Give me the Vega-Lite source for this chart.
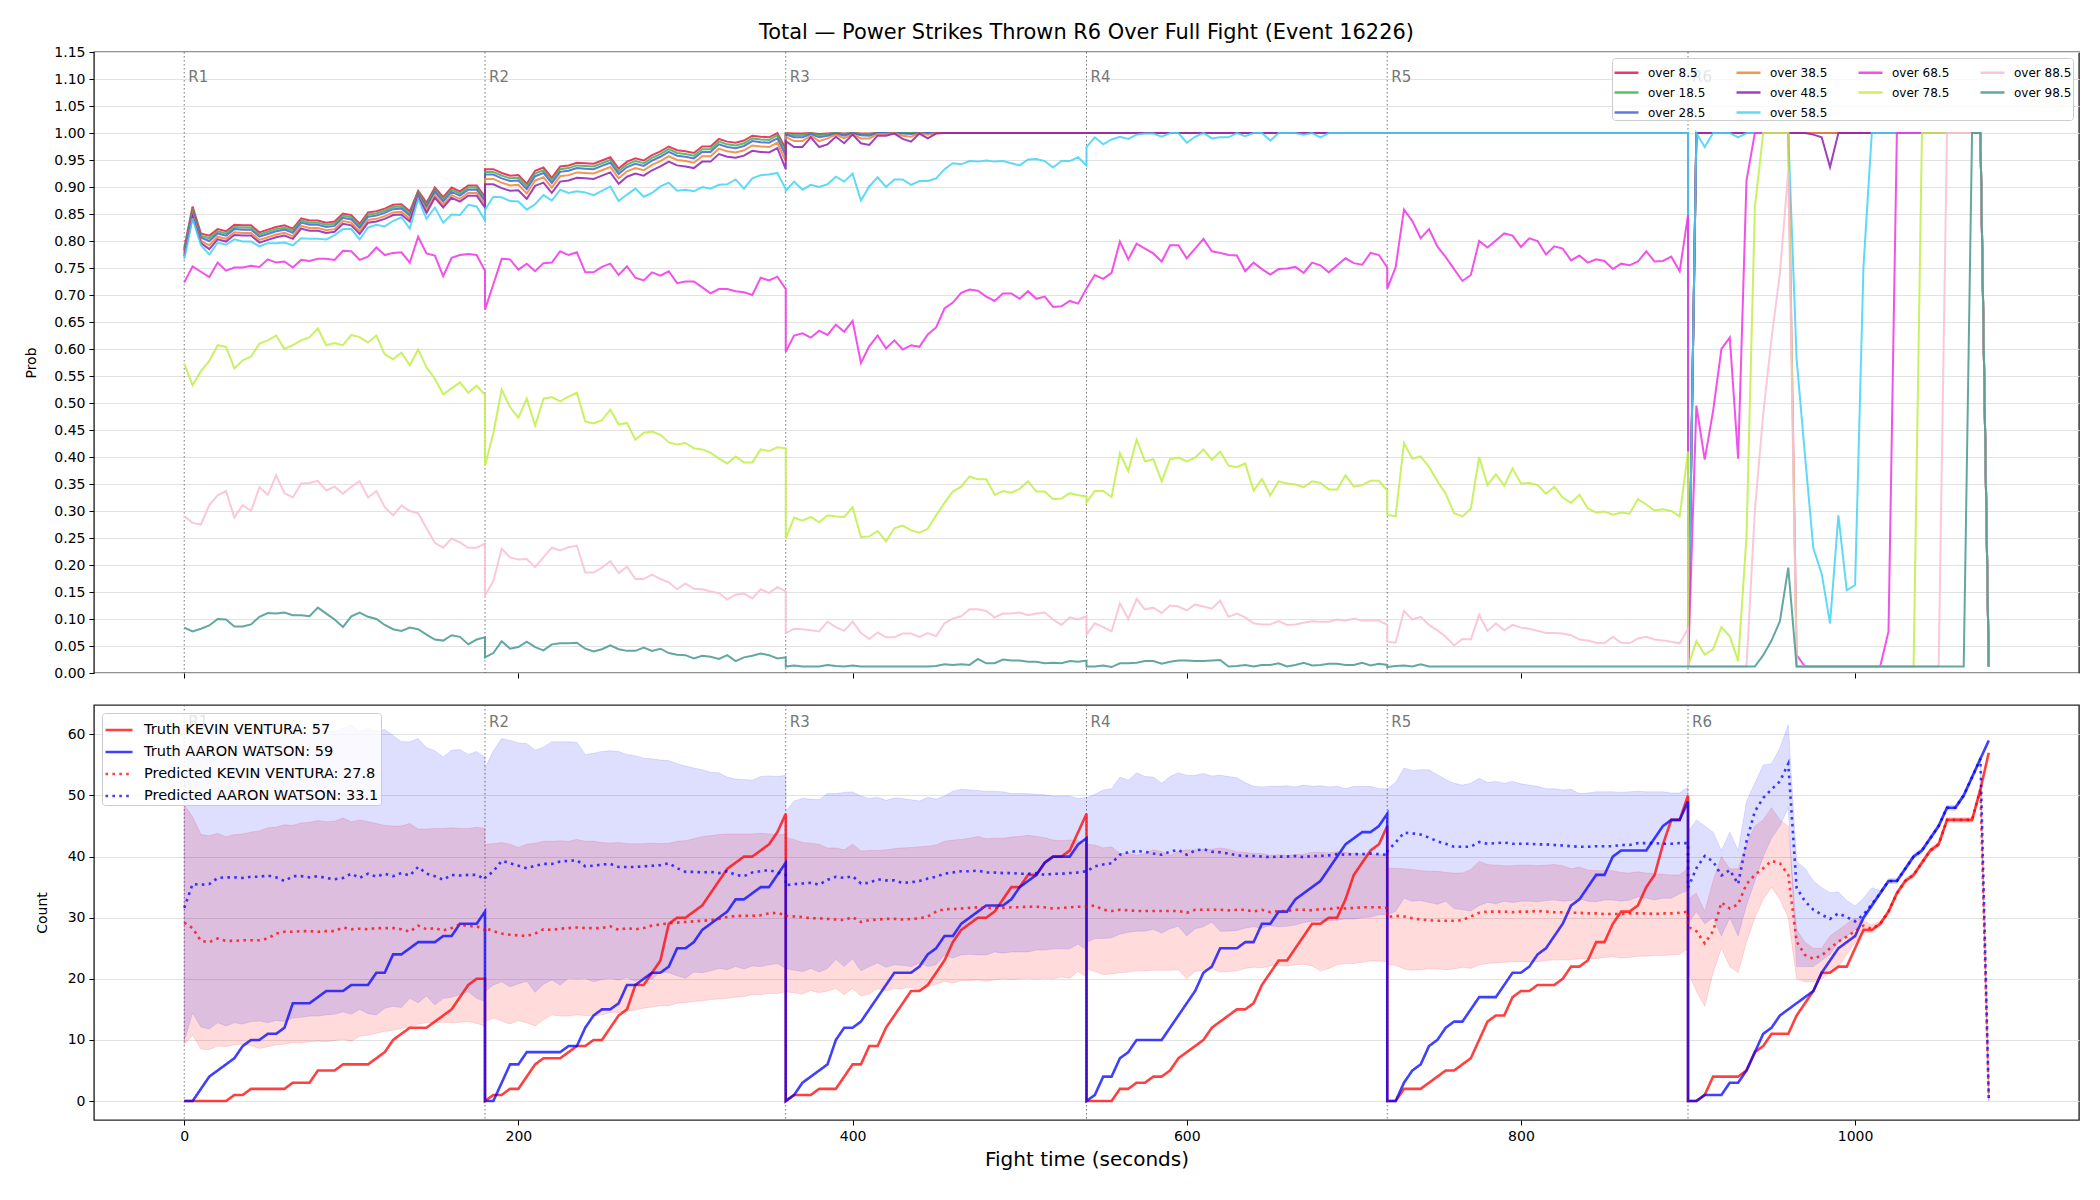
{
  "$schema": "https://vega.github.io/schema/vega-lite/v6.json",
  "background": "white",
  "padding": {"left": 24, "top": 21, "right": 18, "bottom": 12},
  "config": {
    "font": "DejaVu Sans",
    "view": {"stroke": "#262626", "strokeWidth": 1.4},
    "axis": {
      "labelFont": "DejaVu Sans", "titleFont": "DejaVu Sans",
      "labelFontSize": 14, "labelColor": "#000", "tickColor": "#000",
      "tickSize": 5, "tickWidth": 1, "domain": false, "labelOverlap": false,
      "gridColor": "#e2e2e2", "gridWidth": 1,
      "titleFontSize": 14, "titleFontWeight": "normal", "titleColor": "#000",
      "labelPadding": 4
    },
    "legend": {"labelFont": "DejaVu Sans", "titleFont": "DejaVu Sans"}
  },
  "datasets": {
    "rounds": [
      {"t": 0, "r": "R1"}, {"t": 180, "r": "R2"}, {"t": 360, "r": "R3"},
      {"t": 540, "r": "R4"}, {"t": 720, "r": "R5"}, {"t": 900, "r": "R6"}
    ],
    "names": [
      {"s": "a", "name": "over 8.5"}, {"s": "b", "name": "over 18.5"},
      {"s": "c", "name": "over 28.5"}, {"s": "d", "name": "over 38.5"},
      {"s": "e", "name": "over 48.5"}, {"s": "f", "name": "over 58.5"},
      {"s": "g", "name": "over 68.5"}, {"s": "h", "name": "over 78.5"},
      {"s": "i", "name": "over 88.5"}, {"s": "j", "name": "over 98.5"}
    ],
    "series": [
      {"s": "k", "name": "Truth KEVIN VENTURA: 57"},
      {"s": "a", "name": "Truth AARON WATSON: 59"},
      {"s": "pk", "name": "Predicted KEVIN VENTURA: 27.8"},
      {"s": "pa", "name": "Predicted AARON WATSON: 33.1"}
    ],
    "probs": [
      {"t":0,"a":0.786,"b":0.783,"c":0.78,"d":0.776,"e":0.772,"f":0.766,"g":0.723,"h":0.573,"i":0.29,"j":0.084},
      {"t":5,"a":0.864,"b":0.86,"c":0.856,"d":0.85,"e":0.845,"f":0.842,"g":0.753,"h":0.533,"i":0.278,"j":0.077},
      {"t":10,"a":0.814,"b":0.81,"c":0.806,"d":0.8,"e":0.796,"f":0.792,"g":0.743,"h":0.559,"i":0.275,"j":0.082},
      {"t":15,"a":0.81,"b":0.805,"c":0.8,"d":0.792,"e":0.785,"f":0.775,"g":0.733,"h":0.578,"i":0.311,"j":0.088},
      {"t":20,"a":0.822,"b":0.818,"c":0.814,"d":0.808,"e":0.803,"f":0.797,"g":0.76,"h":0.607,"i":0.329,"j":0.1},
      {"t":25,"a":0.818,"b":0.814,"c":0.81,"d":0.804,"e":0.799,"f":0.793,"g":0.745,"h":0.604,"i":0.337,"j":0.099},
      {"t":30,"a":0.83,"b":0.826,"c":0.822,"d":0.816,"e":0.811,"f":0.803,"g":0.751,"h":0.564,"i":0.288,"j":0.086},
      {"t":35,"a":0.829,"b":0.825,"c":0.821,"d":0.815,"e":0.81,"f":0.799,"g":0.751,"h":0.579,"i":0.311,"j":0.086},
      {"t":40,"a":0.829,"b":0.825,"c":0.821,"d":0.815,"e":0.81,"f":0.799,"g":0.754,"h":0.586,"i":0.3,"j":0.09},
      {"t":45,"a":0.816,"b":0.812,"c":0.808,"d":0.802,"e":0.797,"f":0.79,"g":0.752,"h":0.61,"i":0.344,"j":0.104},
      {"t":50,"a":0.821,"b":0.817,"c":0.813,"d":0.807,"e":0.802,"f":0.796,"g":0.766,"h":0.616,"i":0.33,"j":0.111},
      {"t":55,"a":0.826,"b":0.822,"c":0.818,"d":0.812,"e":0.807,"f":0.796,"g":0.76,"h":0.625,"i":0.366,"j":0.11},
      {"t":60,"a":0.829,"b":0.825,"c":0.821,"d":0.815,"e":0.81,"f":0.797,"g":0.762,"h":0.6,"i":0.333,"j":0.112},
      {"t":65,"a":0.823,"b":0.819,"c":0.815,"d":0.809,"e":0.804,"f":0.792,"g":0.751,"h":0.607,"i":0.325,"j":0.107},
      {"t":70,"a":0.842,"b":0.838,"c":0.834,"d":0.828,"e":0.823,"f":0.805,"g":0.765,"h":0.616,"i":0.351,"j":0.107},
      {"t":75,"a":0.838,"b":0.834,"c":0.83,"d":0.824,"e":0.819,"f":0.804,"g":0.763,"h":0.622,"i":0.352,"j":0.105},
      {"t":80,"a":0.838,"b":0.834,"c":0.83,"d":0.824,"e":0.819,"f":0.804,"g":0.767,"h":0.638,"i":0.356,"j":0.121},
      {"t":85,"a":0.834,"b":0.83,"c":0.826,"d":0.82,"e":0.815,"f":0.803,"g":0.767,"h":0.607,"i":0.338,"j":0.11},
      {"t":90,"a":0.836,"b":0.832,"c":0.828,"d":0.822,"e":0.817,"f":0.811,"g":0.765,"h":0.611,"i":0.345,"j":0.099},
      {"t":95,"a":0.851,"b":0.847,"c":0.843,"d":0.837,"e":0.832,"f":0.822,"g":0.782,"h":0.607,"i":0.332,"j":0.085},
      {"t":100,"a":0.848,"b":0.844,"c":0.84,"d":0.834,"e":0.829,"f":0.822,"g":0.781,"h":0.626,"i":0.345,"j":0.105},
      {"t":105,"a":0.832,"b":0.828,"c":0.824,"d":0.818,"e":0.813,"f":0.803,"g":0.765,"h":0.622,"i":0.355,"j":0.112},
      {"t":110,"a":0.853,"b":0.849,"c":0.845,"d":0.839,"e":0.834,"f":0.825,"g":0.771,"h":0.612,"i":0.325,"j":0.104},
      {"t":115,"a":0.855,"b":0.851,"c":0.847,"d":0.841,"e":0.836,"f":0.83,"g":0.788,"h":0.625,"i":0.337,"j":0.1},
      {"t":120,"a":0.86,"b":0.856,"c":0.852,"d":0.846,"e":0.841,"f":0.827,"g":0.774,"h":0.59,"i":0.307,"j":0.089},
      {"t":125,"a":0.867,"b":0.863,"c":0.859,"d":0.853,"e":0.848,"f":0.837,"g":0.778,"h":0.581,"i":0.292,"j":0.081},
      {"t":130,"a":0.868,"b":0.864,"c":0.86,"d":0.854,"e":0.849,"f":0.844,"g":0.779,"h":0.593,"i":0.31,"j":0.078},
      {"t":135,"a":0.855,"b":0.851,"c":0.847,"d":0.841,"e":0.836,"f":0.823,"g":0.76,"h":0.57,"i":0.3,"j":0.084},
      {"t":140,"a":0.893,"b":0.89,"c":0.887,"d":0.884,"e":0.882,"f":0.878,"g":0.808,"h":0.599,"i":0.296,"j":0.081},
      {"t":145,"a":0.871,"b":0.867,"c":0.863,"d":0.857,"e":0.852,"f":0.841,"g":0.777,"h":0.566,"i":0.268,"j":0.071},
      {"t":150,"a":0.899,"b":0.895,"c":0.891,"d":0.885,"e":0.88,"f":0.862,"g":0.773,"h":0.545,"i":0.241,"j":0.062},
      {"t":155,"a":0.881,"b":0.877,"c":0.873,"d":0.867,"e":0.862,"f":0.834,"g":0.735,"h":0.516,"i":0.232,"j":0.06},
      {"t":160,"a":0.899,"b":0.895,"c":0.891,"d":0.885,"e":0.88,"f":0.849,"g":0.769,"h":0.527,"i":0.249,"j":0.07},
      {"t":165,"a":0.892,"b":0.888,"c":0.884,"d":0.878,"e":0.873,"f":0.848,"g":0.774,"h":0.538,"i":0.242,"j":0.067},
      {"t":170,"a":0.903,"b":0.899,"c":0.895,"d":0.889,"e":0.884,"f":0.867,"g":0.776,"h":0.519,"i":0.232,"j":0.053},
      {"t":175,"a":0.903,"b":0.899,"c":0.895,"d":0.889,"e":0.884,"f":0.864,"g":0.774,"h":0.532,"i":0.232,"j":0.062},
      {"t":180,"a":0.882,"b":0.878,"c":0.874,"d":0.868,"e":0.862,"f":0.838,"g":0.745,"h":0.515,"i":0.24,"j":0.066},
      {"t":180,"a":0.933,"b":0.928,"c":0.923,"d":0.915,"e":0.905,"f":0.858,"g":0.673,"h":0.384,"i":0.144,"j":0.029},
      {"t":185,"a":0.933,"b":0.928,"c":0.923,"d":0.915,"e":0.905,"f":0.882,"g":0.72,"h":0.444,"i":0.17,"j":0.037},
      {"t":190,"a":0.926,"b":0.921,"c":0.916,"d":0.908,"e":0.898,"f":0.881,"g":0.767,"h":0.525,"i":0.23,"j":0.059},
      {"t":195,"a":0.921,"b":0.916,"c":0.911,"d":0.903,"e":0.893,"f":0.874,"g":0.766,"h":0.492,"i":0.214,"j":0.045},
      {"t":200,"a":0.922,"b":0.917,"c":0.912,"d":0.904,"e":0.894,"f":0.873,"g":0.747,"h":0.473,"i":0.21,"j":0.048},
      {"t":205,"a":0.906,"b":0.901,"c":0.896,"d":0.888,"e":0.878,"f":0.858,"g":0.758,"h":0.508,"i":0.211,"j":0.058},
      {"t":210,"a":0.93,"b":0.925,"c":0.92,"d":0.912,"e":0.902,"f":0.868,"g":0.744,"h":0.458,"i":0.196,"j":0.048},
      {"t":215,"a":0.936,"b":0.931,"c":0.926,"d":0.918,"e":0.908,"f":0.885,"g":0.759,"h":0.508,"i":0.214,"j":0.042},
      {"t":220,"a":0.917,"b":0.912,"c":0.907,"d":0.899,"e":0.889,"f":0.875,"g":0.76,"h":0.511,"i":0.232,"j":0.053},
      {"t":225,"a":0.938,"b":0.933,"c":0.928,"d":0.92,"e":0.91,"f":0.895,"g":0.781,"h":0.503,"i":0.227,"j":0.055},
      {"t":230,"a":0.94,"b":0.935,"c":0.93,"d":0.922,"e":0.912,"f":0.889,"g":0.774,"h":0.512,"i":0.233,"j":0.055},
      {"t":235,"a":0.945,"b":0.94,"c":0.935,"d":0.927,"e":0.917,"f":0.892,"g":0.779,"h":0.519,"i":0.236,"j":0.056},
      {"t":240,"a":0.944,"b":0.939,"c":0.934,"d":0.926,"e":0.916,"f":0.89,"g":0.742,"h":0.466,"i":0.186,"j":0.045},
      {"t":245,"a":0.943,"b":0.938,"c":0.933,"d":0.925,"e":0.915,"f":0.885,"g":0.742,"h":0.462,"i":0.186,"j":0.04},
      {"t":250,"a":0.949,"b":0.944,"c":0.939,"d":0.931,"e":0.921,"f":0.893,"g":0.752,"h":0.468,"i":0.195,"j":0.044},
      {"t":255,"a":0.955,"b":0.95,"c":0.945,"d":0.937,"e":0.927,"f":0.901,"g":0.758,"h":0.488,"i":0.207,"j":0.051},
      {"t":260,"a":0.934,"b":0.929,"c":0.924,"d":0.916,"e":0.906,"f":0.874,"g":0.737,"h":0.46,"i":0.185,"j":0.044},
      {"t":265,"a":0.947,"b":0.942,"c":0.937,"d":0.929,"e":0.919,"f":0.886,"g":0.753,"h":0.463,"i":0.197,"j":0.041},
      {"t":270,"a":0.953,"b":0.948,"c":0.943,"d":0.935,"e":0.925,"f":0.897,"g":0.732,"h":0.432,"i":0.174,"j":0.041},
      {"t":275,"a":0.949,"b":0.944,"c":0.939,"d":0.931,"e":0.921,"f":0.882,"g":0.727,"h":0.445,"i":0.174,"j":0.047},
      {"t":280,"a":0.959,"b":0.954,"c":0.949,"d":0.941,"e":0.931,"f":0.889,"g":0.742,"h":0.447,"i":0.182,"j":0.041},
      {"t":285,"a":0.966,"b":0.961,"c":0.956,"d":0.948,"e":0.938,"f":0.901,"g":0.736,"h":0.441,"i":0.174,"j":0.045},
      {"t":290,"a":0.975,"b":0.97,"c":0.965,"d":0.957,"e":0.947,"f":0.908,"g":0.744,"h":0.427,"i":0.168,"j":0.037},
      {"t":295,"a":0.968,"b":0.963,"c":0.958,"d":0.95,"e":0.94,"f":0.893,"g":0.722,"h":0.423,"i":0.155,"j":0.034},
      {"t":300,"a":0.966,"b":0.961,"c":0.956,"d":0.948,"e":0.938,"f":0.895,"g":0.725,"h":0.426,"i":0.166,"j":0.033},
      {"t":305,"a":0.963,"b":0.958,"c":0.953,"d":0.945,"e":0.935,"f":0.892,"g":0.725,"h":0.416,"i":0.156,"j":0.027},
      {"t":310,"a":0.975,"b":0.97,"c":0.965,"d":0.957,"e":0.947,"f":0.9,"g":0.714,"h":0.414,"i":0.155,"j":0.032},
      {"t":315,"a":0.975,"b":0.97,"c":0.965,"d":0.957,"e":0.947,"f":0.897,"g":0.703,"h":0.408,"i":0.151,"j":0.03},
      {"t":320,"a":0.989,"b":0.984,"c":0.979,"d":0.971,"e":0.961,"f":0.904,"g":0.711,"h":0.397,"i":0.148,"j":0.026},
      {"t":325,"a":0.984,"b":0.979,"c":0.974,"d":0.966,"e":0.956,"f":0.905,"g":0.711,"h":0.388,"i":0.136,"j":0.033},
      {"t":330,"a":0.982,"b":0.977,"c":0.972,"d":0.964,"e":0.954,"f":0.914,"g":0.707,"h":0.401,"i":0.145,"j":0.022},
      {"t":335,"a":0.986,"b":0.981,"c":0.976,"d":0.968,"e":0.958,"f":0.897,"g":0.705,"h":0.39,"i":0.147,"j":0.029},
      {"t":340,"a":0.995,"b":0.99,"c":0.985,"d":0.977,"e":0.967,"f":0.916,"g":0.7,"h":0.39,"i":0.138,"j":0.032},
      {"t":345,"a":0.993,"b":0.988,"c":0.983,"d":0.975,"e":0.965,"f":0.922,"g":0.732,"h":0.414,"i":0.155,"j":0.036},
      {"t":350,"a":0.992,"b":0.987,"c":0.982,"d":0.974,"e":0.964,"f":0.923,"g":0.727,"h":0.411,"i":0.148,"j":0.033},
      {"t":355,"a":1,"b":0.996,"c":0.99,"d":0.982,"e":0.972,"f":0.926,"g":0.734,"h":0.418,"i":0.159,"j":0.027},
      {"t":360,"a":0.971,"b":0.965,"c":0.958,"d":0.948,"e":0.933,"f":0.896,"g":0.711,"h":0.416,"i":0.151,"j":0.029},
      {"t":360,"a":1,"b":0.999,"c":0.997,"d":0.993,"e":0.985,"f":0.893,"g":0.595,"h":0.249,"i":0.074,"j":0.012},
      {"t":365,"a":0.999,"b":0.996,"c":0.992,"d":0.985,"e":0.974,"f":0.91,"g":0.625,"h":0.288,"i":0.082,"j":0.014},
      {"t":370,"a":0.999,"b":0.996,"c":0.992,"d":0.985,"e":0.974,"f":0.895,"g":0.629,"h":0.282,"i":0.081,"j":0.012},
      {"t":375,"a":1,"b":1,"c":0.998,"d":0.995,"e":0.992,"f":0.904,"g":0.621,"h":0.289,"i":0.079,"j":0.012},
      {"t":380,"a":0.998,"b":0.996,"c":0.992,"d":0.985,"e":0.974,"f":0.9,"g":0.634,"h":0.279,"i":0.077,"j":0.012},
      {"t":385,"a":0.999,"b":0.998,"c":0.995,"d":0.99,"e":0.979,"f":0.905,"g":0.626,"h":0.292,"i":0.095,"j":0.015},
      {"t":390,"a":1,"b":1,"c":0.999,"d":0.997,"e":0.993,"f":0.919,"g":0.645,"h":0.29,"i":0.085,"j":0.013},
      {"t":395,"a":0.999,"b":0.998,"c":0.995,"d":0.99,"e":0.981,"f":0.91,"g":0.632,"h":0.289,"i":0.078,"j":0.012},
      {"t":400,"a":1,"b":1,"c":1,"d":0.998,"e":0.997,"f":0.925,"g":0.652,"h":0.307,"i":0.095,"j":0.014},
      {"t":405,"a":0.999,"b":0.998,"c":0.996,"d":0.99,"e":0.981,"f":0.875,"g":0.574,"h":0.252,"i":0.074,"j":0.012},
      {"t":410,"a":0.999,"b":0.998,"c":0.995,"d":0.99,"e":0.978,"f":0.901,"g":0.605,"h":0.253,"i":0.063,"j":0.012},
      {"t":415,"a":1,"b":1,"c":1,"d":0.998,"e":0.995,"f":0.918,"g":0.625,"h":0.263,"i":0.075,"j":0.012},
      {"t":420,"a":1,"b":1,"c":1,"d":0.998,"e":0.995,"f":0.9,"g":0.601,"h":0.244,"i":0.066,"j":0.012},
      {"t":425,"a":1,"b":1,"c":1,"d":1,"e":0.999,"f":0.914,"g":0.616,"h":0.268,"i":0.066,"j":0.012},
      {"t":430,"a":1,"b":1,"c":0.999,"d":0.995,"e":0.989,"f":0.914,"g":0.599,"h":0.273,"i":0.073,"j":0.012},
      {"t":435,"a":1,"b":1,"c":0.998,"d":0.993,"e":0.984,"f":0.904,"g":0.607,"h":0.264,"i":0.073,"j":0.012},
      {"t":440,"a":1,"b":1,"c":1,"d":1,"e":0.999,"f":0.911,"g":0.604,"h":0.26,"i":0.067,"j":0.012},
      {"t":445,"a":1,"b":1,"c":1,"d":0.997,"e":0.99,"f":0.911,"g":0.627,"h":0.267,"i":0.074,"j":0.012},
      {"t":450,"a":1,"b":1,"c":1,"d":1,"e":0.999,"f":0.916,"g":0.64,"h":0.292,"i":0.068,"j":0.013},
      {"t":455,"a":1,"b":1,"c":1,"d":1,"e":1,"f":0.933,"g":0.675,"h":0.315,"i":0.092,"j":0.016},
      {"t":460,"a":1,"b":1,"c":1,"d":1,"e":1,"f":0.944,"g":0.686,"h":0.336,"i":0.101,"j":0.015},
      {"t":465,"a":1,"b":1,"c":1,"d":1,"e":1,"f":0.942,"g":0.704,"h":0.345,"i":0.105,"j":0.016},
      {"t":470,"a":1,"b":1,"c":1,"d":1,"e":1,"f":0.948,"g":0.71,"h":0.364,"i":0.118,"j":0.015},
      {"t":475,"a":1,"b":1,"c":1,"d":1,"e":1,"f":0.947,"g":0.708,"h":0.359,"i":0.118,"j":0.026},
      {"t":480,"a":1,"b":1,"c":1,"d":1,"e":1,"f":0.949,"g":0.697,"h":0.359,"i":0.115,"j":0.018},
      {"t":485,"a":1,"b":1,"c":1,"d":1,"e":1,"f":0.947,"g":0.689,"h":0.33,"i":0.103,"j":0.018},
      {"t":490,"a":1,"b":1,"c":1,"d":1,"e":1,"f":0.948,"g":0.703,"h":0.337,"i":0.11,"j":0.025},
      {"t":495,"a":1,"b":1,"c":1,"d":1,"e":1,"f":0.944,"g":0.703,"h":0.334,"i":0.11,"j":0.023},
      {"t":500,"a":1,"b":1,"c":1,"d":1,"e":1,"f":0.94,"g":0.693,"h":0.341,"i":0.112,"j":0.023},
      {"t":505,"a":1,"b":1,"c":1,"d":1,"e":1,"f":0.951,"g":0.707,"h":0.355,"i":0.107,"j":0.021},
      {"t":510,"a":1,"b":1,"c":1,"d":1,"e":1,"f":0.952,"g":0.693,"h":0.336,"i":0.11,"j":0.021},
      {"t":515,"a":1,"b":1,"c":1,"d":1,"e":1,"f":0.948,"g":0.697,"h":0.336,"i":0.112,"j":0.018},
      {"t":520,"a":1,"b":1,"c":1,"d":1,"e":1,"f":0.936,"g":0.678,"h":0.322,"i":0.099,"j":0.019},
      {"t":525,"a":1,"b":1,"c":1,"d":1,"e":1,"f":0.948,"g":0.679,"h":0.323,"i":0.089,"j":0.018},
      {"t":530,"a":1,"b":1,"c":1,"d":1,"e":1,"f":0.948,"g":0.689,"h":0.333,"i":0.103,"j":0.022},
      {"t":535,"a":1,"b":1,"c":1,"d":1,"e":1,"f":0.955,"g":0.684,"h":0.329,"i":0.099,"j":0.021},
      {"t":540,"a":1,"b":1,"c":1,"d":1,"e":1,"f":0.94,"g":0.712,"h":0.327,"i":0.105,"j":0.023},
      {"t":540,"a":1,"b":1,"c":1,"d":1,"e":1,"f":0.974,"g":0.712,"h":0.316,"i":0.071,"j":0.012},
      {"t":545,"a":1,"b":1,"c":1,"d":1,"e":1,"f":0.992,"g":0.737,"h":0.337,"i":0.092,"j":0.012},
      {"t":550,"a":1,"b":1,"c":1,"d":1,"e":1,"f":0.979,"g":0.73,"h":0.337,"i":0.085,"j":0.014},
      {"t":555,"a":1,"b":1,"c":1,"d":1,"e":1,"f":0.988,"g":0.741,"h":0.326,"i":0.077,"j":0.011},
      {"t":560,"a":1,"b":1,"c":1,"d":1,"e":1,"f":0.993,"g":0.799,"h":0.407,"i":0.129,"j":0.018},
      {"t":565,"a":1,"b":1,"c":1,"d":1,"e":1,"f":0.989,"g":0.766,"h":0.374,"i":0.1,"j":0.018},
      {"t":570,"a":1,"b":1,"c":1,"d":1,"e":1,"f":0.997,"g":0.795,"h":0.432,"i":0.137,"j":0.019},
      {"t":575,"a":1,"b":1,"c":1,"d":1,"e":1,"f":0.999,"g":0.786,"h":0.392,"i":0.118,"j":0.022},
      {"t":580,"a":1,"b":1,"c":1,"d":1,"e":1,"f":0.999,"g":0.777,"h":0.396,"i":0.121,"j":0.022},
      {"t":585,"a":1,"b":1,"c":1,"d":1,"e":1,"f":0.993,"g":0.762,"h":0.355,"i":0.111,"j":0.017},
      {"t":590,"a":1,"b":1,"c":1,"d":1,"e":1,"f":1,"g":0.792,"h":0.396,"i":0.125,"j":0.021},
      {"t":595,"a":1,"b":1,"c":1,"d":1,"e":1,"f":1,"g":0.792,"h":0.399,"i":0.123,"j":0.023},
      {"t":600,"a":1,"b":1,"c":1,"d":1,"e":1,"f":0.982,"g":0.768,"h":0.392,"i":0.116,"j":0.023},
      {"t":605,"a":1,"b":1,"c":1,"d":1,"e":1,"f":0.993,"g":0.786,"h":0.399,"i":0.127,"j":0.022},
      {"t":610,"a":1,"b":1,"c":1,"d":1,"e":1,"f":1,"g":0.804,"h":0.414,"i":0.123,"j":0.022},
      {"t":615,"a":1,"b":1,"c":1,"d":1,"e":1,"f":0.99,"g":0.781,"h":0.395,"i":0.119,"j":0.023},
      {"t":620,"a":1,"b":1,"c":1,"d":1,"e":1,"f":0.992,"g":0.778,"h":0.41,"i":0.134,"j":0.024},
      {"t":625,"a":1,"b":1,"c":1,"d":1,"e":1,"f":0.992,"g":0.774,"h":0.384,"i":0.104,"j":0.012},
      {"t":630,"a":1,"b":1,"c":1,"d":1,"e":1,"f":1,"g":0.773,"h":0.381,"i":0.11,"j":0.013},
      {"t":635,"a":1,"b":1,"c":1,"d":1,"e":1,"f":0.994,"g":0.744,"h":0.388,"i":0.103,"j":0.015},
      {"t":640,"a":1,"b":1,"c":1,"d":1,"e":1,"f":1,"g":0.76,"h":0.338,"i":0.092,"j":0.012},
      {"t":645,"a":1,"b":1,"c":1,"d":1,"e":1,"f":1,"g":0.748,"h":0.359,"i":0.09,"j":0.015},
      {"t":650,"a":1,"b":1,"c":1,"d":1,"e":1,"f":0.986,"g":0.738,"h":0.329,"i":0.09,"j":0.015},
      {"t":655,"a":1,"b":1,"c":1,"d":1,"e":1,"f":1,"g":0.748,"h":0.355,"i":0.096,"j":0.018},
      {"t":660,"a":1,"b":1,"c":1,"d":1,"e":1,"f":1,"g":0.749,"h":0.351,"i":0.089,"j":0.012},
      {"t":665,"a":1,"b":1,"c":1,"d":1,"e":1,"f":1,"g":0.752,"h":0.349,"i":0.09,"j":0.015},
      {"t":670,"a":1,"b":1,"c":1,"d":1,"e":1,"f":0.997,"g":0.741,"h":0.344,"i":0.093,"j":0.019},
      {"t":675,"a":1,"b":1,"c":1,"d":1,"e":1,"f":1,"g":0.76,"h":0.355,"i":0.096,"j":0.014},
      {"t":680,"a":1,"b":1,"c":1,"d":1,"e":1,"f":0.992,"g":0.755,"h":0.352,"i":0.095,"j":0.015},
      {"t":685,"a":1,"b":1,"c":1,"d":1,"e":1,"f":1,"g":0.742,"h":0.34,"i":0.095,"j":0.017},
      {"t":690,"a":1,"b":1,"c":1,"d":1,"e":1,"f":1,"g":0.755,"h":0.34,"i":0.099,"j":0.017},
      {"t":695,"a":1,"b":1,"c":1,"d":1,"e":1,"f":1,"g":0.768,"h":0.366,"i":0.097,"j":0.015},
      {"t":700,"a":1,"b":1,"c":1,"d":1,"e":1,"f":1,"g":0.759,"h":0.345,"i":0.101,"j":0.015},
      {"t":705,"a":1,"b":1,"c":1,"d":1,"e":1,"f":1,"g":0.756,"h":0.348,"i":0.097,"j":0.019},
      {"t":710,"a":1,"b":1,"c":1,"d":1,"e":1,"f":1,"g":0.778,"h":0.356,"i":0.097,"j":0.014},
      {"t":715,"a":1,"b":1,"c":1,"d":1,"e":1,"f":1,"g":0.774,"h":0.356,"i":0.097,"j":0.017},
      {"t":720,"a":1,"b":1,"c":1,"d":1,"e":1,"f":1,"g":0.751,"h":0.338,"i":0.089,"j":0.015},
      {"t":720,"a":1,"b":1,"c":1,"d":1,"e":1,"f":1,"g":0.712,"h":0.293,"i":0.058,"j":0.011},
      {"t":725,"a":1,"b":1,"c":1,"d":1,"e":1,"f":1,"g":0.751,"h":0.29,"i":0.056,"j":0.013},
      {"t":730,"a":1,"b":1,"c":1,"d":1,"e":1,"f":1,"g":0.858,"h":0.426,"i":0.115,"j":0.014},
      {"t":735,"a":1,"b":1,"c":1,"d":1,"e":1,"f":1,"g":0.837,"h":0.397,"i":0.099,"j":0.012},
      {"t":740,"a":1,"b":1,"c":1,"d":1,"e":1,"f":1,"g":0.805,"h":0.401,"i":0.104,"j":0.016},
      {"t":745,"a":1,"b":1,"c":1,"d":1,"e":1,"f":1,"g":0.822,"h":0.382,"i":0.089,"j":0.012},
      {"t":750,"a":1,"b":1,"c":1,"d":1,"e":1,"f":1,"g":0.79,"h":0.355,"i":0.079,"j":0.012},
      {"t":755,"a":1,"b":1,"c":1,"d":1,"e":1,"f":1,"g":0.77,"h":0.332,"i":0.067,"j":0.012},
      {"t":760,"a":1,"b":1,"c":1,"d":1,"e":1,"f":1,"g":0.748,"h":0.296,"i":0.051,"j":0.012},
      {"t":765,"a":1,"b":1,"c":1,"d":1,"e":1,"f":1,"g":0.726,"h":0.29,"i":0.063,"j":0.012},
      {"t":770,"a":1,"b":1,"c":1,"d":1,"e":1,"f":1,"g":0.737,"h":0.304,"i":0.062,"j":0.012},
      {"t":775,"a":1,"b":1,"c":1,"d":1,"e":1,"f":1,"g":0.8,"h":0.4,"i":0.108,"j":0.012},
      {"t":780,"a":1,"b":1,"c":1,"d":1,"e":1,"f":1,"g":0.788,"h":0.348,"i":0.078,"j":0.012},
      {"t":785,"a":1,"b":1,"c":1,"d":1,"e":1,"f":1,"g":0.801,"h":0.368,"i":0.092,"j":0.012},
      {"t":790,"a":1,"b":1,"c":1,"d":1,"e":1,"f":1,"g":0.814,"h":0.347,"i":0.079,"j":0.012},
      {"t":795,"a":1,"b":1,"c":1,"d":1,"e":1,"f":1,"g":0.81,"h":0.379,"i":0.089,"j":0.012},
      {"t":800,"a":1,"b":1,"c":1,"d":1,"e":1,"f":1,"g":0.789,"h":0.351,"i":0.084,"j":0.012},
      {"t":805,"a":1,"b":1,"c":1,"d":1,"e":1,"f":1,"g":0.805,"h":0.352,"i":0.082,"j":0.012},
      {"t":810,"a":1,"b":1,"c":1,"d":1,"e":1,"f":1,"g":0.8,"h":0.348,"i":0.078,"j":0.012},
      {"t":815,"a":1,"b":1,"c":1,"d":1,"e":1,"f":1,"g":0.775,"h":0.332,"i":0.074,"j":0.012},
      {"t":820,"a":1,"b":1,"c":1,"d":1,"e":1,"f":1,"g":0.79,"h":0.345,"i":0.074,"j":0.012},
      {"t":825,"a":1,"b":1,"c":1,"d":1,"e":1,"f":1,"g":0.786,"h":0.325,"i":0.073,"j":0.012},
      {"t":830,"a":1,"b":1,"c":1,"d":1,"e":1,"f":1,"g":0.764,"h":0.315,"i":0.07,"j":0.012},
      {"t":835,"a":1,"b":1,"c":1,"d":1,"e":1,"f":1,"g":0.773,"h":0.33,"i":0.062,"j":0.012},
      {"t":840,"a":1,"b":1,"c":1,"d":1,"e":1,"f":1,"g":0.76,"h":0.305,"i":0.06,"j":0.012},
      {"t":845,"a":1,"b":1,"c":1,"d":1,"e":1,"f":1,"g":0.766,"h":0.297,"i":0.056,"j":0.012},
      {"t":850,"a":1,"b":1,"c":1,"d":1,"e":1,"f":1,"g":0.763,"h":0.299,"i":0.055,"j":0.012},
      {"t":855,"a":1,"b":1,"c":1,"d":1,"e":1,"f":1,"g":0.748,"h":0.293,"i":0.067,"j":0.012},
      {"t":860,"a":1,"b":1,"c":1,"d":1,"e":1,"f":1,"g":0.758,"h":0.297,"i":0.056,"j":0.012},
      {"t":865,"a":1,"b":1,"c":1,"d":1,"e":1,"f":1,"g":0.755,"h":0.295,"i":0.055,"j":0.012},
      {"t":870,"a":1,"b":1,"c":1,"d":1,"e":1,"f":1,"g":0.762,"h":0.322,"i":0.064,"j":0.012},
      {"t":875,"a":1,"b":1,"c":1,"d":1,"e":1,"f":1,"g":0.781,"h":0.312,"i":0.067,"j":0.012},
      {"t":880,"a":1,"b":1,"c":1,"d":1,"e":1,"f":1,"g":0.762,"h":0.301,"i":0.062,"j":0.012},
      {"t":885,"a":1,"b":1,"c":1,"d":1,"e":1,"f":1,"g":0.763,"h":0.303,"i":0.06,"j":0.012},
      {"t":890,"a":1,"b":1,"c":1,"d":1,"e":1,"f":1,"g":0.771,"h":0.3,"i":0.058,"j":0.012},
      {"t":895,"a":1,"b":1,"c":1,"d":1,"e":1,"f":1,"g":0.744,"h":0.29,"i":0.055,"j":0.012},
      {"t":900,"a":1,"b":1,"c":1,"d":1,"e":1,"f":1,"g":0.848,"h":0.41,"i":0.082,"j":0.012},
      {"t":900,"a":0.012,"b":0.012,"c":0.012,"d":0.012,"e":0.012,"f":0.012,"g":0.012,"h":0.012,"i":0.012,"j":0.012},
      {"t":905,"a":1,"b":1,"c":1,"d":1,"e":1,"f":1,"g":0.495,"h":0.059,"i":0.012,"j":0.012},
      {"t":910,"a":1,"b":1,"c":1,"d":1,"e":1,"f":0.974,"g":0.395,"h":0.034,"i":0.012,"j":0.012},
      {"t":915,"a":1,"b":1,"c":1,"d":1,"e":1,"f":1,"g":0.485,"h":0.044,"i":0.012,"j":0.012},
      {"t":920,"a":1,"b":1,"c":1,"d":1,"e":1,"f":1,"g":0.6,"h":0.085,"i":0.012,"j":0.012},
      {"t":925,"a":1,"b":1,"c":1,"d":1,"e":1,"f":1,"g":0.621,"h":0.068,"i":0.012,"j":0.012},
      {"t":930,"a":1,"b":1,"c":1,"d":1,"e":1,"f":0.992,"g":0.397,"h":0.022,"i":0.012,"j":0.012},
      {"t":935,"a":1,"b":1,"c":1,"d":1,"e":1,"f":1,"g":0.912,"h":0.252,"i":0.012,"j":0.012},
      {"t":940,"a":1,"b":1,"c":1,"d":1,"e":1,"f":1,"g":1,"h":0.862,"i":0.3,"j":0.012},
      {"t":945,"a":1,"b":1,"c":1,"d":1,"e":1,"f":1,"g":1,"h":1,"i":0.48,"j":0.033},
      {"t":950,"a":1,"b":1,"c":1,"d":1,"e":1,"f":1,"g":1,"h":1,"i":0.62,"j":0.06},
      {"t":955,"a":1,"b":1,"c":1,"d":1,"e":1,"f":1,"g":1,"h":1,"i":0.74,"j":0.096},
      {"t":960,"a":1,"b":1,"c":1,"d":1,"e":1,"f":1,"g":1,"h":1,"i":0.93,"j":0.195},
      {"t":965,"a":1,"b":1,"c":1,"d":1,"e":1,"f":0.581,"g":0.033,"h":0.012,"i":0.012,"j":0.012},
      {"t":970,"a":1,"b":1,"c":1,"d":1,"e":1,"f":0.403,"g":0.012,"h":0.012,"i":0.012,"j":0.012},
      {"t":975,"a":1,"b":1,"c":1,"d":1,"e":0.997,"f":0.231,"g":0.012,"h":0.012,"i":0.012,"j":0.012},
      {"t":980,"a":1,"b":1,"c":1,"d":1,"e":0.992,"f":0.184,"g":0.012,"h":0.012,"i":0.012,"j":0.012},
      {"t":985,"a":1,"b":1,"c":1,"d":1,"e":0.937,"f":0.092,"g":0.012,"h":0.012,"i":0.012,"j":0.012},
      {"t":990,"a":1,"b":1,"c":1,"d":1,"e":1,"f":0.292,"g":0.012,"h":0.012,"i":0.012,"j":0.012},
      {"t":995,"a":1,"b":1,"c":1,"d":1,"e":1,"f":0.153,"g":0.012,"h":0.012,"i":0.012,"j":0.012},
      {"t":1000,"a":1,"b":1,"c":1,"d":1,"e":1,"f":0.163,"g":0.012,"h":0.012,"i":0.012,"j":0.012},
      {"t":1005,"a":1,"b":1,"c":1,"d":1,"e":1,"f":0.752,"g":0.012,"h":0.012,"i":0.012,"j":0.012},
      {"t":1010,"a":1,"b":1,"c":1,"d":1,"e":1,"f":1,"g":0.012,"h":0.012,"i":0.012,"j":0.012},
      {"t":1015,"a":1,"b":1,"c":1,"d":1,"e":1,"f":1,"g":0.012,"h":0.012,"i":0.012,"j":0.012},
      {"t":1020,"a":1,"b":1,"c":1,"d":1,"e":1,"f":1,"g":0.077,"h":0.012,"i":0.012,"j":0.012},
      {"t":1025,"a":1,"b":1,"c":1,"d":1,"e":1,"f":1,"g":1,"h":0.012,"i":0.012,"j":0.012},
      {"t":1030,"a":1,"b":1,"c":1,"d":1,"e":1,"f":1,"g":1,"h":0.012,"i":0.012,"j":0.012},
      {"t":1035,"a":1,"b":1,"c":1,"d":1,"e":1,"f":1,"g":1,"h":0.012,"i":0.012,"j":0.012},
      {"t":1040,"a":1,"b":1,"c":1,"d":1,"e":1,"f":1,"g":1,"h":1,"i":0.012,"j":0.012},
      {"t":1045,"a":1,"b":1,"c":1,"d":1,"e":1,"f":1,"g":1,"h":1,"i":0.012,"j":0.012},
      {"t":1050,"a":1,"b":1,"c":1,"d":1,"e":1,"f":1,"g":1,"h":1,"i":0.012,"j":0.012},
      {"t":1055,"a":1,"b":1,"c":1,"d":1,"e":1,"f":1,"g":1,"h":1,"i":1,"j":0.012},
      {"t":1060,"a":1,"b":1,"c":1,"d":1,"e":1,"f":1,"g":1,"h":1,"i":1,"j":0.012},
      {"t":1065,"a":1,"b":1,"c":1,"d":1,"e":1,"f":1,"g":1,"h":1,"i":1,"j":0.012},
      {"t":1070,"a":1,"b":1,"c":1,"d":1,"e":1,"f":1,"g":1,"h":1,"i":1,"j":1},
      {"t":1075,"a":1,"b":1,"c":1,"d":1,"e":1,"f":1,"g":1,"h":1,"i":1,"j":1},
      {"t":1080,"a":0.012,"b":0.012,"c":0.012,"d":0.012,"e":0.012,"f":0.012,"g":0.012,"h":0.012,"i":0.012,"j":0.012}
    ],
    "counts": [
      {"t":0,"k":0,"a":0,"pk":29.2,"pa":31.6,"kl":9.2,"kh":48.5,"al":9.8,"ah":52},
      {"t":5,"k":0,"a":0,"pk":28.3,"pa":35.5,"kl":10.8,"kh":46.5,"al":14.4,"ah":60},
      {"t":10,"k":0,"a":2,"pk":26.2,"pa":35.4,"kl":8.5,"kh":43.6,"al":12.1,"ah":59.5},
      {"t":15,"k":0,"a":4,"pk":26,"pa":35.5,"kl":8.4,"kh":43.4,"al":11.8,"ah":60},
      {"t":20,"k":0,"a":5,"pk":26.6,"pa":36.5,"kl":9,"kh":43.8,"al":12.8,"ah":60.5},
      {"t":25,"k":0,"a":6,"pk":26.2,"pa":36.6,"kl":8.9,"kh":43.2,"al":12.3,"ah":60},
      {"t":30,"k":1,"a":7,"pk":26.2,"pa":36.6,"kl":9.2,"kh":43.6,"al":12.8,"ah":60.5},
      {"t":35,"k":1,"a":9,"pk":26.3,"pa":36.5,"kl":9.3,"kh":43.7,"al":12.6,"ah":61},
      {"t":40,"k":2,"a":10,"pk":26.3,"pa":36.7,"kl":9.1,"kh":44,"al":13,"ah":61},
      {"t":45,"k":2,"a":10,"pk":26.3,"pa":36.7,"kl":8.6,"kh":44.2,"al":13.1,"ah":61.5},
      {"t":50,"k":2,"a":11,"pk":26.6,"pa":36.9,"kl":8.9,"kh":44.7,"al":12.8,"ah":61.5},
      {"t":55,"k":2,"a":11,"pk":27.4,"pa":36.6,"kl":9.2,"kh":44.8,"al":13.2,"ah":61},
      {"t":60,"k":2,"a":12,"pk":27.7,"pa":36,"kl":9.3,"kh":45.2,"al":13,"ah":60.5},
      {"t":65,"k":3,"a":16,"pk":27.7,"pa":36.8,"kl":9.6,"kh":45.1,"al":13.6,"ah":61},
      {"t":70,"k":3,"a":16,"pk":27.8,"pa":36.8,"kl":9.5,"kh":45.5,"al":13.7,"ah":61},
      {"t":75,"k":3,"a":16,"pk":27.8,"pa":36.6,"kl":9.7,"kh":45.6,"al":13.9,"ah":60.5},
      {"t":80,"k":5,"a":17,"pk":27.7,"pa":36.8,"kl":9.8,"kh":45.9,"al":13.9,"ah":61},
      {"t":85,"k":5,"a":18,"pk":27.8,"pa":36.5,"kl":9.7,"kh":45.7,"al":14.1,"ah":60.5},
      {"t":90,"k":5,"a":18,"pk":27.8,"pa":36.3,"kl":9.9,"kh":45.8,"al":14.2,"ah":60.5},
      {"t":95,"k":6,"a":18,"pk":28.4,"pa":36.5,"kl":10.1,"kh":46.3,"al":14.6,"ah":61},
      {"t":100,"k":6,"a":19,"pk":28.1,"pa":37.2,"kl":9.8,"kh":45.7,"al":14.2,"ah":61.5},
      {"t":105,"k":6,"a":19,"pk":28.2,"pa":36.5,"kl":10.6,"kh":46,"al":15,"ah":60.5},
      {"t":110,"k":6,"a":19,"pk":28.1,"pa":37.2,"kl":10.8,"kh":45.7,"al":14.3,"ah":61},
      {"t":115,"k":7,"a":21,"pk":28.3,"pa":36.7,"kl":11.1,"kh":45.4,"al":14.1,"ah":60.5},
      {"t":120,"k":8,"a":21,"pk":28.3,"pa":37.2,"kl":11.4,"kh":45.1,"al":15.2,"ah":60.8},
      {"t":125,"k":10,"a":24,"pk":28.3,"pa":36.8,"kl":11.6,"kh":45,"al":15.5,"ah":59.8},
      {"t":130,"k":11,"a":24,"pk":28.1,"pa":37.3,"kl":11.9,"kh":45,"al":15.3,"ah":58.8},
      {"t":135,"k":12,"a":25,"pk":27.7,"pa":36.9,"kl":12.1,"kh":45.4,"al":16.8,"ah":58.8},
      {"t":140,"k":12,"a":26,"pk":28.7,"pa":38.3,"kl":12.6,"kh":44.5,"al":16.1,"ah":59.3},
      {"t":145,"k":12,"a":26,"pk":28.1,"pa":37.2,"kl":12.8,"kh":44.5,"al":17.2,"ah":57.8},
      {"t":150,"k":13,"a":26,"pk":28.3,"pa":36.8,"kl":12.8,"kh":44.6,"al":15.7,"ah":57.3},
      {"t":155,"k":14,"a":27,"pk":27.9,"pa":36.2,"kl":12.9,"kh":44.6,"al":16.8,"ah":56.3},
      {"t":160,"k":15,"a":27,"pk":28.3,"pa":37,"kl":12.8,"kh":44.7,"al":17,"ah":57.4},
      {"t":165,"k":17,"a":29,"pk":28.9,"pa":36.9,"kl":12.9,"kh":44.6,"al":17.4,"ah":57.5},
      {"t":170,"k":19,"a":29,"pk":28.6,"pa":37,"kl":13,"kh":44.6,"al":17.9,"ah":56.7},
      {"t":175,"k":20,"a":29,"pk":28.6,"pa":37,"kl":12.7,"kh":44.8,"al":16.8,"ah":57.2},
      {"t":180,"k":20,"a":31,"pk":28,"pa":36.3,"kl":12.3,"kh":44.6,"al":16.3,"ah":56.3},
      {"t":180,"k":0,"a":0,"pk":28.3,"pa":36.5,"kl":13,"kh":42,"al":17.9,"ah":54.5},
      {"t":185,"k":1,"a":0,"pk":27.8,"pa":37.6,"kl":13.6,"kh":42.1,"al":19,"ah":57.3},
      {"t":190,"k":1,"a":3,"pk":27.4,"pa":39.3,"kl":13.1,"kh":42.3,"al":19.5,"ah":59.3},
      {"t":195,"k":2,"a":6,"pk":27.2,"pa":38.9,"kl":12.6,"kh":42,"al":18.7,"ah":59},
      {"t":200,"k":2,"a":6,"pk":27.1,"pa":38.5,"kl":13.2,"kh":41.5,"al":19.2,"ah":58.6},
      {"t":205,"k":4,"a":8,"pk":27,"pa":38.1,"kl":12.8,"kh":42,"al":19.6,"ah":58.5},
      {"t":210,"k":6,"a":8,"pk":27.4,"pa":38.5,"kl":12.3,"kh":42.2,"al":17.8,"ah":57.4},
      {"t":215,"k":7,"a":8,"pk":28.1,"pa":38.8,"kl":13.3,"kh":42.5,"al":19.1,"ah":57.9},
      {"t":220,"k":7,"a":8,"pk":28,"pa":38.8,"kl":14.1,"kh":42.5,"al":19.8,"ah":58.8},
      {"t":225,"k":7,"a":8,"pk":28.2,"pa":39.2,"kl":13.9,"kh":42.6,"al":19,"ah":58.8},
      {"t":230,"k":8,"a":9,"pk":28.3,"pa":39.3,"kl":13.9,"kh":42.5,"al":20.1,"ah":58.8},
      {"t":235,"k":9,"a":9,"pk":28.4,"pa":39.4,"kl":14.1,"kh":42.8,"al":20,"ah":58.7},
      {"t":240,"k":9,"a":12,"pk":28.3,"pa":38.4,"kl":14,"kh":42.5,"al":20.1,"ah":56.7},
      {"t":245,"k":10,"a":14,"pk":28.3,"pa":38.5,"kl":13.9,"kh":42.5,"al":19.5,"ah":56.9},
      {"t":250,"k":10,"a":15,"pk":28.3,"pa":38.7,"kl":14.1,"kh":42.3,"al":19.9,"ah":57.2},
      {"t":255,"k":12,"a":15,"pk":28.6,"pa":38.8,"kl":14.5,"kh":42.2,"al":20.1,"ah":57.3},
      {"t":260,"k":14,"a":16,"pk":28,"pa":38.3,"kl":14.5,"kh":42.3,"al":19.8,"ah":57.2},
      {"t":265,"k":15,"a":19,"pk":28.3,"pa":38.3,"kl":14.6,"kh":42.1,"al":20.2,"ah":56.7},
      {"t":270,"k":19,"a":19,"pk":28.1,"pa":38.3,"kl":14.9,"kh":42.1,"al":19.6,"ah":56.5},
      {"t":275,"k":19,"a":20,"pk":28.3,"pa":38.4,"kl":15.2,"kh":42.1,"al":20.3,"ah":56.1},
      {"t":280,"k":21,"a":21,"pk":28.7,"pa":38.5,"kl":15.4,"kh":42.2,"al":19.9,"ah":56},
      {"t":285,"k":23,"a":21,"pk":28.9,"pa":38.6,"kl":15.6,"kh":42.1,"al":21.2,"ah":55.8},
      {"t":290,"k":29,"a":22,"pk":29.1,"pa":38.9,"kl":15.6,"kh":42.2,"al":21,"ah":55.7},
      {"t":295,"k":30,"a":25,"pk":29.2,"pa":38.1,"kl":16,"kh":42.5,"al":20.5,"ah":55.2},
      {"t":300,"k":30,"a":25,"pk":29.3,"pa":37.5,"kl":16.1,"kh":42.6,"al":20.1,"ah":54.8},
      {"t":305,"k":31,"a":26,"pk":29.4,"pa":37.5,"kl":16.3,"kh":42.9,"al":21.1,"ah":54.5},
      {"t":310,"k":32,"a":28,"pk":29.5,"pa":37.4,"kl":16.4,"kh":43.3,"al":21,"ah":54.2},
      {"t":315,"k":34,"a":29,"pk":29.6,"pa":37.5,"kl":16.6,"kh":43.4,"al":21.3,"ah":53.8},
      {"t":320,"k":36,"a":30,"pk":29.8,"pa":37.3,"kl":16.7,"kh":43.6,"al":21.7,"ah":53.7},
      {"t":325,"k":38,"a":31,"pk":30.1,"pa":37.6,"kl":16.8,"kh":43.7,"al":21.5,"ah":53},
      {"t":330,"k":39,"a":33,"pk":30.3,"pa":37,"kl":17,"kh":43.7,"al":22,"ah":52.7},
      {"t":335,"k":40,"a":33,"pk":30.3,"pa":36.8,"kl":17.1,"kh":43.7,"al":21.6,"ah":52.6},
      {"t":340,"k":40,"a":34,"pk":30.3,"pa":37.4,"kl":17.4,"kh":43.7,"al":22.1,"ah":52.5},
      {"t":345,"k":41,"a":35,"pk":30.4,"pa":37.6,"kl":17.4,"kh":43.8,"al":22,"ah":53.1},
      {"t":350,"k":42,"a":35,"pk":30.7,"pa":37.8,"kl":17.6,"kh":43.7,"al":22.3,"ah":53.2},
      {"t":355,"k":44,"a":37,"pk":30.8,"pa":37.4,"kl":17.6,"kh":43.6,"al":22.5,"ah":53.1},
      {"t":360,"k":47,"a":39,"pk":30.4,"pa":37,"kl":17.9,"kh":43.6,"al":21.7,"ah":53.3},
      {"t":360,"k":0,"a":0,"pk":30.3,"pa":35.3,"kl":17.9,"kh":43.1,"al":21.7,"ah":47.4},
      {"t":365,"k":1,"a":1,"pk":30.2,"pa":35.5,"kl":17.7,"kh":42.8,"al":21.4,"ah":49.1},
      {"t":370,"k":1,"a":3,"pk":30.1,"pa":35.6,"kl":17.5,"kh":42.3,"al":21.2,"ah":49.5},
      {"t":375,"k":1,"a":4,"pk":29.9,"pa":35.7,"kl":18.1,"kh":42.2,"al":21.7,"ah":49.4},
      {"t":380,"k":2,"a":5,"pk":29.9,"pa":35.4,"kl":17.7,"kh":42,"al":21.1,"ah":49.3},
      {"t":385,"k":2,"a":6,"pk":29.8,"pa":36.2,"kl":18,"kh":41.4,"al":21.7,"ah":50.3},
      {"t":390,"k":2,"a":10,"pk":29.7,"pa":36.7,"kl":18.4,"kh":41.4,"al":23.2,"ah":50.3},
      {"t":395,"k":4,"a":12,"pk":29.6,"pa":36.5,"kl":17.4,"kh":41.1,"al":22,"ah":50.5},
      {"t":400,"k":6,"a":12,"pk":30.1,"pa":36.8,"kl":18.4,"kh":42,"al":23.3,"ah":50.6},
      {"t":405,"k":6,"a":13,"pk":29.3,"pa":35.6,"kl":17.2,"kh":40.9,"al":21.3,"ah":49.9},
      {"t":410,"k":9,"a":15,"pk":29.6,"pa":35.7,"kl":17.5,"kh":41,"al":22,"ah":49.5},
      {"t":415,"k":9,"a":17,"pk":29.7,"pa":36.3,"kl":18.4,"kh":41,"al":22.6,"ah":49.7},
      {"t":420,"k":12,"a":19,"pk":29.8,"pa":36.1,"kl":18,"kh":41.1,"al":21.9,"ah":49.2},
      {"t":425,"k":14,"a":21,"pk":29.8,"pa":36.1,"kl":18.4,"kh":41.3,"al":22.3,"ah":49.6},
      {"t":430,"k":16,"a":21,"pk":29.7,"pa":35.7,"kl":18.4,"kh":41.4,"al":22.2,"ah":49.5},
      {"t":435,"k":18,"a":21,"pk":29.8,"pa":35.8,"kl":18.6,"kh":41.5,"al":22,"ah":49.3},
      {"t":440,"k":18,"a":22,"pk":29.9,"pa":36,"kl":18.1,"kh":41.6,"al":22.6,"ah":49.1},
      {"t":445,"k":19,"a":24,"pk":30.2,"pa":36.4,"kl":18.7,"kh":41.7,"al":22,"ah":49.7},
      {"t":450,"k":21,"a":25,"pk":31,"pa":36.7,"kl":19.1,"kh":41.9,"al":22.3,"ah":49.4},
      {"t":455,"k":23,"a":27,"pk":31.4,"pa":37.2,"kl":19.6,"kh":42.5,"al":23.9,"ah":49.9},
      {"t":460,"k":26,"a":27,"pk":31.4,"pa":37.4,"kl":19.3,"kh":42.7,"al":23.4,"ah":50.7},
      {"t":465,"k":28,"a":29,"pk":31.5,"pa":37.6,"kl":19.7,"kh":42.8,"al":23.9,"ah":51},
      {"t":470,"k":29,"a":30,"pk":31.6,"pa":37.6,"kl":19.7,"kh":43,"al":24,"ah":50.9},
      {"t":475,"k":30,"a":31,"pk":31.7,"pa":37.7,"kl":19.8,"kh":43.3,"al":23.9,"ah":50.8},
      {"t":480,"k":30,"a":32,"pk":31.6,"pa":37.4,"kl":19.6,"kh":42.9,"al":23.9,"ah":50.7},
      {"t":485,"k":31,"a":32,"pk":31.6,"pa":37.4,"kl":19.8,"kh":43,"al":24.4,"ah":50.7},
      {"t":490,"k":33,"a":32,"pk":31.6,"pa":37.3,"kl":20,"kh":43,"al":24.2,"ah":50.6},
      {"t":495,"k":35,"a":33,"pk":31.7,"pa":37.3,"kl":19.9,"kh":43.2,"al":24.4,"ah":50.3},
      {"t":500,"k":35,"a":35,"pk":31.7,"pa":37.2,"kl":20,"kh":43.3,"al":24.4,"ah":50.3},
      {"t":505,"k":37,"a":36,"pk":31.8,"pa":37.2,"kl":20.1,"kh":43.5,"al":24.4,"ah":50.3},
      {"t":510,"k":37,"a":37,"pk":31.8,"pa":37.3,"kl":20,"kh":43.3,"al":24.7,"ah":50.2},
      {"t":515,"k":39,"a":39,"pk":31.7,"pa":37,"kl":20.1,"kh":43.1,"al":24.7,"ah":50.1},
      {"t":520,"k":40,"a":40,"pk":31.5,"pa":37.2,"kl":20,"kh":42.7,"al":24.9,"ah":49.9},
      {"t":525,"k":40,"a":40,"pk":31.6,"pa":37.2,"kl":20.3,"kh":42.6,"al":24.9,"ah":49.9},
      {"t":530,"k":41,"a":40,"pk":31.7,"pa":37.3,"kl":20.1,"kh":42.7,"al":24.9,"ah":49.9},
      {"t":535,"k":44,"a":42,"pk":31.8,"pa":37.4,"kl":21.2,"kh":42.6,"al":25.7,"ah":49.5},
      {"t":540,"k":47,"a":43,"pk":31.8,"pa":37.6,"kl":20.3,"kh":41.9,"al":24.7,"ah":49.7},
      {"t":540,"k":0,"a":0,"pk":31.8,"pa":37.6,"kl":21.7,"kh":42,"al":26,"ah":49.6},
      {"t":545,"k":0,"a":1,"pk":32,"pa":38.4,"kl":21.2,"kh":41.9,"al":26.6,"ah":50.2},
      {"t":550,"k":0,"a":4,"pk":31.3,"pa":38.7,"kl":20.7,"kh":41.4,"al":26.6,"ah":50.9},
      {"t":555,"k":0,"a":4,"pk":31.1,"pa":38.9,"kl":20.8,"kh":41.6,"al":26.7,"ah":51.1},
      {"t":560,"k":2,"a":7,"pk":31.3,"pa":40.3,"kl":21,"kh":40.5,"al":27.3,"ah":53},
      {"t":565,"k":2,"a":8,"pk":31.2,"pa":40.7,"kl":21.1,"kh":40.5,"al":27.6,"ah":52.5},
      {"t":570,"k":3,"a":10,"pk":31.1,"pa":40.9,"kl":21.3,"kh":40.2,"al":27.8,"ah":53.7},
      {"t":575,"k":3,"a":10,"pk":31.1,"pa":40.8,"kl":21.3,"kh":40.5,"al":27.8,"ah":53.1},
      {"t":580,"k":4,"a":10,"pk":31.1,"pa":40.5,"kl":21.4,"kh":41.1,"al":28.1,"ah":53},
      {"t":585,"k":4,"a":10,"pk":31.1,"pa":40.3,"kl":21.4,"kh":40.8,"al":27.5,"ah":52},
      {"t":590,"k":5,"a":12,"pk":31.1,"pa":40.8,"kl":21.4,"kh":40.2,"al":28.2,"ah":53.1},
      {"t":595,"k":7,"a":14,"pk":31.1,"pa":41.1,"kl":21.5,"kh":40.8,"al":28.6,"ah":53.7},
      {"t":600,"k":8,"a":16,"pk":30.8,"pa":40.3,"kl":20,"kh":41.1,"al":27,"ah":53.3},
      {"t":605,"k":9,"a":18,"pk":31.3,"pa":41,"kl":21.2,"kh":41.1,"al":28.2,"ah":53.3},
      {"t":610,"k":10,"a":21,"pk":31.3,"pa":41.2,"kl":21.4,"kh":41.2,"al":28.5,"ah":53.6},
      {"t":615,"k":12,"a":22,"pk":31.3,"pa":40.8,"kl":21.7,"kh":41.2,"al":29.3,"ah":53.2},
      {"t":620,"k":13,"a":25,"pk":31.3,"pa":40.7,"kl":21.1,"kh":41.4,"al":27.8,"ah":53.3},
      {"t":625,"k":14,"a":25,"pk":31.2,"pa":40.5,"kl":21.2,"kh":41.2,"al":27.8,"ah":53.1},
      {"t":630,"k":15,"a":25,"pk":31.3,"pa":40.2,"kl":21.3,"kh":40.8,"al":27.9,"ah":52.9},
      {"t":635,"k":15,"a":26,"pk":31.3,"pa":40.1,"kl":21.7,"kh":40.7,"al":28.3,"ah":52.1},
      {"t":640,"k":16,"a":26,"pk":31,"pa":40.1,"kl":21.9,"kh":40.5,"al":28.5,"ah":51.5},
      {"t":645,"k":19,"a":29,"pk":31.3,"pa":40,"kl":21.8,"kh":40.5,"al":28.3,"ah":51.4},
      {"t":650,"k":21,"a":29,"pk":30.9,"pa":39.9,"kl":22.1,"kh":40.2,"al":28.7,"ah":51.5},
      {"t":655,"k":23,"a":31,"pk":31.1,"pa":40,"kl":22.2,"kh":40.3,"al":28.5,"ah":51.5},
      {"t":660,"k":23,"a":31,"pk":31.1,"pa":40,"kl":22.1,"kh":40.2,"al":28.6,"ah":51.6},
      {"t":665,"k":25,"a":33,"pk":31.3,"pa":40.1,"kl":22.3,"kh":40.3,"al":28.8,"ah":51.4},
      {"t":670,"k":27,"a":34,"pk":31.3,"pa":39.9,"kl":22.4,"kh":40.4,"al":29.2,"ah":51.7},
      {"t":675,"k":29,"a":35,"pk":31.2,"pa":40.1,"kl":22.1,"kh":40.7,"al":29.4,"ah":51.5},
      {"t":680,"k":29,"a":36,"pk":31.4,"pa":40.1,"kl":21.3,"kh":40.7,"al":29.5,"ah":51.6},
      {"t":685,"k":30,"a":38,"pk":31.4,"pa":40.2,"kl":21.7,"kh":40.6,"al":29.5,"ah":51.4},
      {"t":690,"k":30,"a":40,"pk":31.6,"pa":40.4,"kl":22.3,"kh":40.8,"al":29.6,"ah":51.5},
      {"t":695,"k":33,"a":42,"pk":31.5,"pa":40.3,"kl":22.5,"kh":40.7,"al":29.8,"ah":51.1},
      {"t":700,"k":37,"a":43,"pk":31.6,"pa":40.4,"kl":22.5,"kh":40.5,"al":29.8,"ah":51.5},
      {"t":705,"k":39,"a":44,"pk":31.7,"pa":40.4,"kl":22.7,"kh":40.4,"al":30,"ah":51.5},
      {"t":710,"k":41,"a":44,"pk":31.7,"pa":40.5,"kl":22.9,"kh":40.4,"al":30.1,"ah":51.5},
      {"t":715,"k":42,"a":45,"pk":31.7,"pa":40.4,"kl":22.9,"kh":40.3,"al":30.5,"ah":51.1},
      {"t":720,"k":45,"a":47,"pk":31.6,"pa":40.3,"kl":22.8,"kh":40.3,"al":30.5,"ah":51.1},
      {"t":720,"k":0,"a":0,"pk":30.1,"pa":40.9,"kl":22.3,"kh":38.1,"al":30.5,"ah":51.1},
      {"t":725,"k":0,"a":0,"pk":30.3,"pa":42.3,"kl":22.2,"kh":38.1,"al":31,"ah":52.1},
      {"t":730,"k":2,"a":3,"pk":30.2,"pa":43.9,"kl":21.6,"kh":38,"al":33.2,"ah":54.5},
      {"t":735,"k":2,"a":5,"pk":29.9,"pa":43.8,"kl":21.4,"kh":37.9,"al":32.7,"ah":54.1},
      {"t":740,"k":2,"a":6,"pk":29.7,"pa":43.6,"kl":21.5,"kh":37.7,"al":32.8,"ah":54.2},
      {"t":745,"k":3,"a":9,"pk":29.6,"pa":43.1,"kl":21.7,"kh":37.6,"al":32.5,"ah":54.2},
      {"t":750,"k":4,"a":10,"pk":29.5,"pa":42.5,"kl":21.6,"kh":37.6,"al":32.2,"ah":53.4},
      {"t":755,"k":5,"a":12,"pk":29.5,"pa":42.1,"kl":21.5,"kh":37.4,"al":32.7,"ah":52.6},
      {"t":760,"k":5,"a":13,"pk":29.5,"pa":41.6,"kl":21.6,"kh":37.3,"al":31.5,"ah":52},
      {"t":765,"k":6,"a":13,"pk":29.6,"pa":41.6,"kl":21.9,"kh":37.3,"al":31.3,"ah":51.7},
      {"t":770,"k":7,"a":15,"pk":30.2,"pa":41.6,"kl":21.7,"kh":37.9,"al":31.1,"ah":52},
      {"t":775,"k":10,"a":17,"pk":30.8,"pa":42.4,"kl":22.3,"kh":39.2,"al":32,"ah":52.8},
      {"t":780,"k":13,"a":17,"pk":31,"pa":42.1,"kl":22.5,"kh":38.7,"al":32.5,"ah":52.1},
      {"t":785,"k":14,"a":17,"pk":31,"pa":42.2,"kl":22.6,"kh":38.6,"al":32.3,"ah":52.3},
      {"t":790,"k":14,"a":19,"pk":31,"pa":42.3,"kl":22.7,"kh":38.5,"al":32.7,"ah":52},
      {"t":795,"k":17,"a":21,"pk":30.9,"pa":42.1,"kl":22.8,"kh":38.5,"al":32.5,"ah":52.3},
      {"t":800,"k":18,"a":21,"pk":31,"pa":42.1,"kl":22.8,"kh":38.6,"al":32.7,"ah":51.9},
      {"t":805,"k":18,"a":22,"pk":31,"pa":42.1,"kl":22.8,"kh":38.6,"al":32.7,"ah":51.7},
      {"t":810,"k":19,"a":24,"pk":31.1,"pa":42,"kl":22.8,"kh":38.5,"al":32.6,"ah":51.5},
      {"t":815,"k":19,"a":25,"pk":31,"pa":42,"kl":23,"kh":38.6,"al":32.8,"ah":51.1},
      {"t":820,"k":19,"a":27,"pk":30.9,"pa":41.9,"kl":23.1,"kh":38.7,"al":32.9,"ah":51.1},
      {"t":825,"k":20,"a":29,"pk":30.9,"pa":41.8,"kl":23.1,"kh":38.5,"al":32.7,"ah":50.9},
      {"t":830,"k":22,"a":32,"pk":30.8,"pa":41.7,"kl":23.1,"kh":38,"al":32.8,"ah":51},
      {"t":835,"k":22,"a":33,"pk":30.8,"pa":41.6,"kl":23.3,"kh":38.3,"al":33.1,"ah":50.3},
      {"t":840,"k":23,"a":35,"pk":30.7,"pa":41.6,"kl":23.3,"kh":37.8,"al":32.7,"ah":50.4},
      {"t":845,"k":26,"a":37,"pk":30.7,"pa":41.7,"kl":23.3,"kh":37.7,"al":32.6,"ah":50.6},
      {"t":850,"k":26,"a":37,"pk":30.6,"pa":41.7,"kl":23.5,"kh":37.7,"al":32.9,"ah":50.6},
      {"t":855,"k":29,"a":40,"pk":30.6,"pa":41.7,"kl":23.6,"kh":37.7,"al":32.9,"ah":50.6},
      {"t":860,"k":31,"a":41,"pk":30.6,"pa":41.9,"kl":23.4,"kh":37.4,"al":32.7,"ah":50.5},
      {"t":865,"k":31,"a":41,"pk":30.7,"pa":41.9,"kl":23.5,"kh":37.3,"al":32.9,"ah":50.6},
      {"t":870,"k":32,"a":41,"pk":30.7,"pa":42.2,"kl":23.7,"kh":37.5,"al":33.4,"ah":50.7},
      {"t":875,"k":35,"a":41,"pk":30.7,"pa":42.2,"kl":23.7,"kh":37.3,"al":33.2,"ah":50.6},
      {"t":880,"k":37,"a":43,"pk":30.6,"pa":42.2,"kl":23.8,"kh":37.2,"al":32.9,"ah":50.6},
      {"t":885,"k":42,"a":45,"pk":30.7,"pa":42.1,"kl":23.8,"kh":37.1,"al":33.2,"ah":50.6},
      {"t":890,"k":46,"a":46,"pk":30.7,"pa":42.1,"kl":23.9,"kh":37,"al":33.2,"ah":50.4},
      {"t":895,"k":46,"a":46,"pk":30.8,"pa":42.2,"kl":24,"kh":37,"al":33.9,"ah":50.4},
      {"t":900,"k":50,"a":49,"pk":31,"pa":42.2,"kl":25,"kh":38.1,"al":34.5,"ah":51.4},
      {"t":900,"k":0,"a":0,"pk":28.5,"pa":34.9,"kl":21,"kh":33,"al":29,"ah":44},
      {"t":905,"k":0,"a":0,"pk":27.8,"pa":38.1,"kl":18,"kh":34,"al":31,"ah":46},
      {"t":910,"k":1,"a":1,"pk":25.8,"pa":40.1,"kl":15.5,"kh":31,"al":29,"ah":45},
      {"t":915,"k":4,"a":1,"pk":27.8,"pa":39.2,"kl":21,"kh":36,"al":30,"ah":44},
      {"t":920,"k":4,"a":1,"pk":32.5,"pa":36.9,"kl":25,"kh":40,"al":27,"ah":41},
      {"t":925,"k":4,"a":3,"pk":31.5,"pa":37.8,"kl":22,"kh":38,"al":30,"ah":44},
      {"t":930,"k":4,"a":3,"pk":32.2,"pa":35.5,"kl":21,"kh":38,"al":27,"ah":41},
      {"t":935,"k":5,"a":5,"pk":35.5,"pa":42.5,"kl":26,"kh":42,"al":32,"ah":49},
      {"t":940,"k":8,"a":8,"pk":37,"pa":47.4,"kl":30,"kh":45,"al":36,"ah":52},
      {"t":945,"k":9,"a":11,"pk":38.1,"pa":49.6,"kl":33,"kh":46,"al":40,"ah":55},
      {"t":950,"k":11,"a":12,"pk":39.3,"pa":51,"kl":35,"kh":48,"al":43,"ah":55.2},
      {"t":955,"k":11,"a":14,"pk":38.9,"pa":52.3,"kl":33,"kh":46,"al":45,"ah":57.8},
      {"t":960,"k":11,"a":15,"pk":37,"pa":55.2,"kl":30,"kh":45,"al":48,"ah":61.6},
      {"t":965,"k":14,"a":16,"pk":26.1,"pa":34.9,"kl":20,"kh":28,"al":22,"ah":39.2},
      {"t":970,"k":16,"a":17,"pk":23.9,"pa":32.7,"kl":19.5,"kh":26,"al":22,"ah":38.1},
      {"t":975,"k":18,"a":18,"pk":23.3,"pa":31.3,"kl":19.5,"kh":25,"al":22,"ah":36},
      {"t":980,"k":21,"a":21,"pk":23.8,"pa":30.5,"kl":20,"kh":25,"al":23,"ah":34.9},
      {"t":985,"k":21,"a":23,"pk":25,"pa":29.8,"kl":21,"kh":27,"al":24,"ah":34.1},
      {"t":990,"k":22,"a":25,"pk":26.1,"pa":30.7,"kl":22,"kh":28,"al":26,"ah":34.2},
      {"t":995,"k":22,"a":26,"pk":26.9,"pa":30.1,"kl":24,"kh":29,"al":27,"ah":32.8},
      {"t":1000,"k":25,"a":27,"pk":27.8,"pa":29.4,"kl":26,"kh":30,"al":28,"ah":31.9},
      {"t":1005,"k":28,"a":30,"pk":28.7,"pa":30.5,"kl":27.5,"kh":29.5,"al":29.5,"ah":33.2},
      {"t":1010,"k":28,"a":32,"pk":28.2,"pa":32.2,"kl":27.6,"kh":28.8,"al":31.5,"ah":34.9},
      {"t":1015,"k":29,"a":34,"pk":29,"pa":34,"kl":28.6,"kh":29.4,"al":33.6,"ah":34.4},
      {"t":1020,"k":31,"a":36,"pk":31,"pa":36,"kl":30.6,"kh":31.4,"al":35.6,"ah":36.4},
      {"t":1025,"k":34,"a":36,"pk":34,"pa":36,"kl":33.6,"kh":34.4,"al":35.6,"ah":36.4},
      {"t":1030,"k":36,"a":38,"pk":36,"pa":38,"kl":35.6,"kh":36.4,"al":37.6,"ah":38.4},
      {"t":1035,"k":37,"a":40,"pk":37,"pa":40,"kl":36.6,"kh":37.4,"al":39.6,"ah":40.4},
      {"t":1040,"k":39,"a":41,"pk":39,"pa":41,"kl":38.6,"kh":39.4,"al":40.6,"ah":41.4},
      {"t":1045,"k":41,"a":43,"pk":41,"pa":43,"kl":40.6,"kh":41.4,"al":42.6,"ah":43.4},
      {"t":1050,"k":42,"a":45,"pk":42,"pa":45,"kl":41.6,"kh":42.4,"al":44.6,"ah":45.4},
      {"t":1055,"k":46,"a":48,"pk":46,"pa":48,"kl":45.6,"kh":46.4,"al":47.6,"ah":48.4},
      {"t":1060,"k":46,"a":48,"pk":46,"pa":48,"kl":45.6,"kh":46.4,"al":47.6,"ah":48.4},
      {"t":1065,"k":46,"a":50,"pk":46,"pa":50,"kl":45.6,"kh":46.4,"al":49.6,"ah":50.4},
      {"t":1070,"k":46,"a":53,"pk":46,"pa":53,"kl":45.6,"kh":46.4,"al":52.6,"ah":53.4},
      {"t":1075,"k":51,"a":56,"pk":51,"pa":56,"kl":50.6,"kh":51.4,"al":55.6,"ah":56.4},
      {"t":1080,"k":57,"a":59,"pk":0.5,"pa":0.5,"kl":0,"kh":1,"al":0,"ah":1}
    ]
  },
  "resolve": {
    "scale": {"x": "shared", "y": "independent", "color": "independent", "strokeDash": "independent", "opacity": "independent"},
    "legend": {"color": "independent", "strokeDash": "independent", "opacity": "independent"}
  },
  "vconcat": [
    {
      "width": 1985,
      "height": 621,
      "title": {
        "text": "Total — Power Strikes Thrown R6 Over Full Fight (Event 16226)",
        "fontSize": 20.9, "fontWeight": "normal", "color": "#000",
        "anchor": "middle", "frame": "group", "offset": 2
      },
      "layer": [
        {
          "data": {"name": "rounds"},
          "mark": {"type": "rule", "color": "#555", "strokeDash": [1.5, 2.5], "strokeWidth": 1, "opacity": 0.8},
          "encoding": {
            "x": {"field": "t", "type": "quantitative", "scale": {"domain": [-54, 1134], "nice": false, "zero": false},
                  "axis": {"title": null, "labels": false, "values": [0, 200, 400, 600, 800, 1000], "grid": false}}
          }
        },
        {
          "data": {"name": "probs"},
          "transform": [
            {"fold": ["a", "b", "c", "d", "e", "f", "g", "h", "i", "j"], "as": ["s", "p"]},
            {"lookup": "s", "from": {"data": {"name": "names"}, "key": "s", "fields": ["name"]}}
          ],
          "mark": {"type": "line", "strokeWidth": 2, "opacity": 0.85},
          "encoding": {
            "x": {"field": "t", "type": "quantitative"},
            "y": {"field": "p", "type": "quantitative",
                  "scale": {"domain": [0, 1.15], "nice": false, "zero": false},
                  "axis": {"title": "Prob", "titlePadding": 15, "labelOverlap": false, "labelSeparation": 0,
                           "values": [0, 0.05, 0.1, 0.15, 0.2, 0.25, 0.3, 0.35, 0.4, 0.45, 0.5, 0.55, 0.6, 0.65, 0.7, 0.75, 0.8, 0.85, 0.9, 0.95, 1, 1.05, 1.1, 1.15],
                           "format": ".2f", "grid": true}},
            "color": {"field": "name", "type": "nominal",
                      "scale": {"domain": ["over 8.5", "over 18.5", "over 98.5", "over 38.5", "over 48.5", "over 28.5", "over 68.5", "over 78.5", "over 58.5", "over 88.5"],
                                "range": ["#e6194b", "#3cb44b", "#469990", "#f58231", "#911eb4", "#4363d8", "#f032e6", "#bfef45", "#42d4f4", "#fabed4"]},
                      "legend": {"title": null, "orient": "top-right", "offset": 6, "columns": 4,
                                 "symbolType": "stroke", "symbolSize": 576, "symbolStrokeWidth": 2.5,
                                 "labelFontSize": 12, "labelColor": "#000", "labelOffset": 8,
                                 "columnPadding": 25, "rowPadding": -4.5, "padding": 1,
                                 "fillColor": "rgba(255,255,255,0.8)", "strokeColor": "#cccccc", "cornerRadius": 3}},
            "order": {"value": null}
          }
        },
        {
          "data": {"name": "rounds"},
          "mark": {"type": "text", "align": "left", "baseline": "top", "dx": 4, "fontSize": 15, "color": "#777777"},
          "encoding": {
            "x": {"field": "t", "type": "quantitative"},
            "y": {"datum": 1.117, "type": "quantitative",
                  "axis": {"title": "Prob", "titlePadding": 15, "labelOverlap": false, "labelSeparation": 0,
                           "values": [0, 0.05, 0.1, 0.15, 0.2, 0.25, 0.3, 0.35, 0.4, 0.45, 0.5, 0.55, 0.6, 0.65, 0.7, 0.75, 0.8, 0.85, 0.9, 0.95, 1, 1.05, 1.1, 1.15],
                           "format": ".2f", "grid": true}},
            "text": {"field": "r"}
          }
        }
      ]
    },
    {
      "width": 1985,
      "height": 415,
      "layer": [
        {
          "data": {"name": "rounds"},
          "mark": {"type": "rule", "color": "#555", "strokeDash": [1.5, 2.5], "strokeWidth": 1, "opacity": 0.8},
          "encoding": {
            "x": {"field": "t", "type": "quantitative", "scale": {"domain": [-54, 1134], "nice": false, "zero": false},
                  "axis": {"title": "Fight time (seconds)", "titleFontSize": 20, "titlePadding": 6,
                           "values": [0, 200, 400, 600, 800, 1000], "format": "d", "grid": false}}
          }
        },
        {
          "data": {"name": "counts"},
          "mark": {"type": "area", "color": "red", "fillOpacity": 0.14, "stroke": "red", "strokeOpacity": 0.12, "strokeWidth": 1},
          "encoding": {
            "x": {"field": "t", "type": "quantitative"},
            "y": {"field": "kl", "type": "quantitative",
                  "scale": {"domain": [-3.1, 64.8], "nice": false, "zero": false},
                  "axis": {"title": "Count", "titlePadding": 18,
                           "values": [0, 5, 10, 15, 20, 25, 30, 35, 40, 45, 50, 55, 60],
                           "labelExpr": "datum.value % 10 === 0 ? datum.label : ''",
                           "tickOpacity": {"condition": {"test": "datum.value % 10 !== 0", "value": 0}, "value": 1},
                           "grid": true}},
            "y2": {"field": "kh"}
          }
        },
        {
          "data": {"name": "counts"},
          "mark": {"type": "area", "color": "blue", "fillOpacity": 0.13, "stroke": "blue", "strokeOpacity": 0.1, "strokeWidth": 1},
          "encoding": {
            "x": {"field": "t", "type": "quantitative"},
            "y": {"field": "al", "type": "quantitative"},
            "y2": {"field": "ah"}
          }
        },
        {
          "data": {"name": "counts"},
          "transform": [
            {"fold": ["k", "a", "pk", "pa"], "as": ["s", "v"]},
            {"lookup": "s", "from": {"data": {"name": "series"}, "key": "s", "fields": ["name"]}}
          ],
          "mark": {"type": "line", "strokeWidth": 2.6},
          "encoding": {
            "x": {"field": "t", "type": "quantitative"},
            "y": {"field": "v", "type": "quantitative"},
            "color": {"field": "name", "type": "nominal",
                      "scale": {"domain": ["Truth KEVIN VENTURA: 57", "Truth AARON WATSON: 59", "Predicted KEVIN VENTURA: 27.8", "Predicted AARON WATSON: 33.1"],
                                "range": ["#ff0000", "#0000ff", "#ff0000", "#0000ff"]},
                      "legend": {"title": null, "orient": "top-left", "offset": 8,
                                 "symbolType": "stroke", "symbolSize": 729, "symbolStrokeWidth": 2.6,
                                 "labelFontSize": 14.5, "labelColor": "#000", "labelOffset": 10, "labelLimit": 400,
                                 "rowPadding": -4.3, "padding": 2,
                                 "fillColor": "rgba(255,255,255,0.8)", "strokeColor": "#cccccc", "cornerRadius": 3}},
            "strokeDash": {"field": "name", "type": "nominal",
                           "scale": {"domain": ["Truth KEVIN VENTURA: 57", "Truth AARON WATSON: 59", "Predicted KEVIN VENTURA: 27.8", "Predicted AARON WATSON: 33.1"],
                                     "range": [[1, 0], [1, 0], [2.6, 4.3], [2.6, 4.3]]},
                           "legend": {"title": null}},
            "opacity": {"field": "name", "type": "nominal",
                        "scale": {"domain": ["Truth KEVIN VENTURA: 57", "Truth AARON WATSON: 59", "Predicted KEVIN VENTURA: 27.8", "Predicted AARON WATSON: 33.1"],
                                  "range": [0.75, 0.75, 0.6, 0.6]},
                        "legend": {"title": null}},
            "order": {"value": null}
          }
        },
        {
          "data": {"name": "rounds"},
          "mark": {"type": "text", "align": "left", "baseline": "top", "dx": 4, "fontSize": 15, "color": "#777777"},
          "encoding": {
            "x": {"field": "t", "type": "quantitative"},
            "y": {"datum": 63.1, "type": "quantitative",
                  "axis": {"title": "Count", "titlePadding": 18,
                           "values": [0, 5, 10, 15, 20, 25, 30, 35, 40, 45, 50, 55, 60],
                           "labelExpr": "datum.value % 10 === 0 ? datum.label : ''",
                           "tickOpacity": {"condition": {"test": "datum.value % 10 !== 0", "value": 0}, "value": 1},
                           "grid": true}},
            "text": {"field": "r"}
          }
        }
      ]
    }
  ],
  "spacing": 22
}
